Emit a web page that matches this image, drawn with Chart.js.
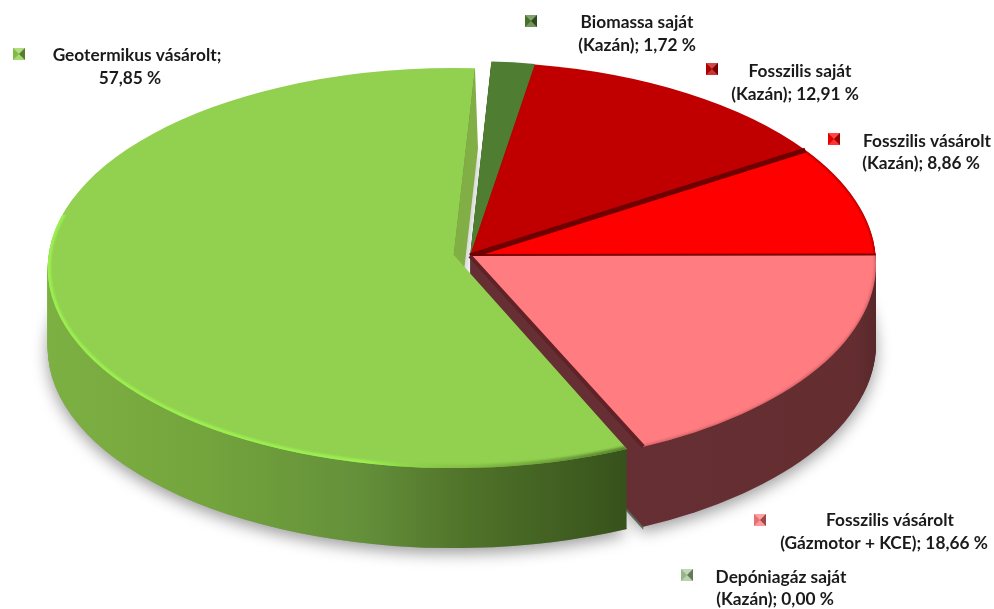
<!DOCTYPE html>
<html>
<head>
<meta charset="utf-8">
<title>Pie</title>
<script src="https://cdn.jsdelivr.net/npm/chart.js@4/dist/chart.umd.min.js"></script>
<style>
html, body { margin: 0; padding: 0; background: #fff; }
canvas { display: block; }
</style>
</head>
<body>
<canvas id="chart" width="994" height="609"></canvas>
<script>
// data, clockwise from the top
let nameLine1 = ["Biomassa saját", "Fosszilis saját", "Fosszilis vásárolt", "Fosszilis vásárolt", "Depóniagáz saját", "Geotermikus vásárolt"];
let nameLine2 = ["(Kazán)", "(Kazán)", "(Kazán)", "(Gázmotor + KCE)", "(Kazán)", ""];
let shares = [1.72, 12.91, 8.86, 18.66, 0.00, 57.85];
let sliceColors = ["#4f7e32", "#c00000", "#ff0000", "#ff7c80", "#a9c99a", "#92d050"];
let sliceOffsets = [4, 0, 0, 0, 0, 46];

// layout of the tilted pie on the page
let pieX = 470, pieY = 264, pieRx = 406, pieDepth = 80;
let faceRy = [202, 202, 202, 202, 202, 200];
let faceDy = [0, 0, 0, 0, 0, 2.5];
// the tip of each slice sits above the ellipse centre (perspective)
let tipLift = [8, 8, 8, 8, 8, 13];

// [marker x, marker y, line 1 centre x, line 1 baseline, line 2 centre x, line 2 baseline]
let labelPlaces = [
    [525, 15, 637, 28, 637, 51],
    [706, 63, 800, 77, 795, 100],
    [828, 133, 927, 147, 921, 169],
    [754, 514, 890, 526, 884, 549],
    [681, 569, 781, 583, 775, 605],
    [13, 48, 137, 61, 130, 84]
];

let pieArcs = [];

function pieTransform(ctx, arc, dy) {
    let i = pieArcs.indexOf(arc);
    let sx = pieRx / arc.outerRadius;
    let sy = faceRy[i] / arc.outerRadius;
    ctx.setTransform(sx, 0, 0, sy, pieX - arc.x * sx, pieY + faceDy[i] - arc.y * sy + dy);
}

function arcCentre(arc) {
    let mid = (arc.startAngle + arc.endAngle) / 2;
    let off = (arc.options.offset || 0) / 4;
    return [arc.x + Math.cos(mid) * off, arc.y + Math.sin(mid) * off];
}

function arcTip(arc) {
    let i = pieArcs.indexOf(arc);
    let c = arcCentre(arc);
    return [c[0], c[1] - tipLift[i] * arc.outerRadius / faceRy[i]];
}

function traceSlice(ctx, arc, dy) {
    let c = arcCentre(arc);
    let t = arcTip(arc);
    pieTransform(ctx, arc, dy);
    ctx.beginPath();
    ctx.moveTo(t[0], t[1]);
    ctx.arc(c[0], c[1], arc.outerRadius, arc.startAngle, arc.endAngle);
    ctx.closePath();
    ctx.setTransform(1, 0, 0, 1, 0, 0);
}

function drawWall(ctx, arc, fill) {
    ctx.fillStyle = fill;
    for (let dy = pieDepth; dy > 0; dy--) {
        traceSlice(ctx, arc, dy);
        ctx.fill();
    }
}

function drawFace(ctx, arc) {
    traceSlice(ctx, arc, 0);
    ctx.fillStyle = arc.options.backgroundColor;
    ctx.fill();
}

function edgePoint(arc, angle) {
    let c = arcCentre(arc);
    return [c[0] + Math.cos(angle) * arc.outerRadius, c[1] + Math.sin(angle) * arc.outerRadius];
}

// flat face of a cut, from the top edge down to the bottom edge
function drawCutFace(ctx, arc, angle, color, depth, shiftX) {
    let t = arcTip(arc);
    let p = edgePoint(arc, angle);
    let sx = pieRx / arc.outerRadius;
    pieTransform(ctx, arc, 0);
    ctx.beginPath();
    ctx.moveTo(t[0], t[1]);
    ctx.lineTo(p[0], p[1]);
    pieTransform(ctx, arc, depth);
    ctx.lineTo(p[0] + shiftX / sx, p[1]);
    ctx.lineTo(t[0] + shiftX / sx, t[1]);
    ctx.closePath();
    ctx.setTransform(1, 0, 0, 1, 0, 0);
    ctx.fillStyle = color;
    ctx.fill();
}

// dark band along the cut between two slices
function drawCut(ctx, arc, angle, color, width) {
    let t = arcTip(arc);
    let p = edgePoint(arc, angle);
    pieTransform(ctx, arc, 0);
    ctx.beginPath();
    ctx.moveTo(t[0], t[1]);
    ctx.lineTo(p[0], p[1]);
    ctx.setTransform(1, 0, 0, 1, 0, 0);
    ctx.strokeStyle = color;
    ctx.lineWidth = width;
    ctx.stroke();
}

// soft bright or dark line on the rim of the top face
function drawRim(ctx, arc, color, width) {
    let c = arcCentre(arc);
    ctx.save();
    traceSlice(ctx, arc, 0);
    ctx.clip();
    pieTransform(ctx, arc, 0);
    ctx.beginPath();
    ctx.arc(c[0], c[1], arc.outerRadius, arc.startAngle, arc.endAngle);
    ctx.setTransform(1, 0, 0, 1, 0, 0);
    ctx.filter = "blur(1px)";
    ctx.strokeStyle = color;
    ctx.lineWidth = width;
    ctx.stroke();
    ctx.restore();
}

function drawMarker(ctx, x, y, color) {
    let s = 12, m = s / 2;
    ctx.fillStyle = color;
    ctx.fillRect(x, y, s, s);
    let tri = function (x1, y1, x2, y2, fill) {
        ctx.fillStyle = fill;
        ctx.beginPath();
        ctx.moveTo(x + x1, y + y1);
        ctx.lineTo(x + x2, y + y2);
        ctx.lineTo(x + m, y + m);
        ctx.closePath();
        ctx.fill();
    };
    tri(0, 0, s, 0, "rgba(255,255,255,0.28)");
    tri(0, s, s, s, "rgba(255,255,255,0.2)");
    tri(0, 0, 0, s, "rgba(0,0,0,0.1)");
    tri(s, 0, s, s, "rgba(0,0,0,0.4)");
}

let tiltedPie = {
    id: "tiltedPie",
    beforeDatasetsDraw(chart) {
        let ctx = chart.ctx;
        pieArcs = chart.getDatasetMeta(0).data;
        let [bio, saj, vas, gaz, dep, geo] = pieArcs;

        ctx.save();

        // ground shadow
        ctx.save();
        ctx.shadowColor = "rgba(0,0,0,0.4)";
        ctx.shadowBlur = 16;
        ctx.shadowOffsetY = 5;
        ctx.fillStyle = "#999";
        [geo, gaz, vas].forEach(function (a) {
            traceSlice(ctx, a, pieDepth);
            ctx.fill();
        });
        ctx.restore();

        // back slices
        drawWall(ctx, bio, "#3c6426");
        drawWall(ctx, saj, "#7c0000");
        drawWall(ctx, vas, "#8c0000");
        [bio, saj, vas].forEach(function (a) {
            drawFace(ctx, a);
        });
        drawRim(ctx, vas, "rgba(120,0,0,0.8)", 2);
        drawCut(ctx, vas, vas.endAngle, "#7a0000", 4);
        drawCut(ctx, saj, saj.endAngle, "#6e0000", 5);

        // empty slice: only its cut face shows
        drawCutFace(ctx, dep, dep.startAngle, "#56665a", pieDepth + 3, 0);

        // pink slice
        let gazWall = ctx.createLinearGradient(640, 0, 880, 0);
        gazWall.addColorStop(0, "#662f33");
        gazWall.addColorStop(0.9, "#642e31");
        gazWall.addColorStop(1, "#552628");
        drawWall(ctx, gaz, gazWall);
        drawFace(ctx, gaz);
        drawRim(ctx, gaz, "rgba(170,70,75,0.45)", 3);
        drawCut(ctx, gaz, gaz.endAngle, "#5f2227", 4);

        // big green slice
        let geoWall = ctx.createLinearGradient(50, 0, 626, 0);
        geoWall.addColorStop(0, "#7db043");
        geoWall.addColorStop(0.26, "#74a53d");
        geoWall.addColorStop(0.54, "#64903a");
        geoWall.addColorStop(0.73, "#4f7229");
        geoWall.addColorStop(1, "#37521c");
        drawWall(ctx, geo, geoWall);
        drawCutFace(ctx, geo, geo.endAngle, "#82ae46", pieDepth, 3);
        drawFace(ctx, geo);

        // rim: bright on the left, darkening towards the front
        ctx.save();
        ctx.beginPath();
        ctx.rect(0, 215, 994, 394);
        ctx.clip();
        let geoRim = ctx.createLinearGradient(47, 0, 627, 0);
        geoRim.addColorStop(0, "rgba(155,240,80,1)");
        geoRim.addColorStop(0.55, "rgba(155,240,80,1)");
        geoRim.addColorStop(0.72, "rgba(125,180,65,0.6)");
        geoRim.addColorStop(1, "rgba(70,105,35,0.75)");
        drawRim(ctx, geo, geoRim, 6);
        ctx.restore();

        ctx.restore();

        // labels with their small markers
        ctx.save();
        ctx.setTransform(1, 0, 0, 1, 0, 0);
        ctx.font = "bold 17.3px Lato";
        ctx.textAlign = "center";
        ctx.textBaseline = "alphabetic";
        shares.forEach(function (share, i) {
            let place = labelPlaces[i];
            let value = share.toFixed(2).replace(".", ",") + " %";
            let line1 = nameLine2[i] ? nameLine1[i] : nameLine1[i] + ";";
            let line2 = nameLine2[i] ? nameLine2[i] + "; " + value : value;
            drawMarker(ctx, place[0], place[1], sliceColors[i]);
            ctx.fillStyle = "#1a1a1a";
            ctx.fillText(line1, place[2], place[3]);
            ctx.fillText(line2, place[4], place[5]);
        });
        ctx.restore();
        return false;
    }
};

new Chart("chart", {
    type: "pie",
    data: {
        labels: nameLine1,
        datasets: [{
            data: shares,
            backgroundColor: sliceColors,
            offset: sliceOffsets,
            borderWidth: 0
        }]
    },
    options: {
        responsive: false,
        animation: false,
        rotation: 3,
        layout: { padding: 0 },
        plugins: {
            legend: { display: false },
            tooltip: { enabled: false }
        }
    },
    plugins: [tiltedPie]
});
</script>
</body>
</html>
